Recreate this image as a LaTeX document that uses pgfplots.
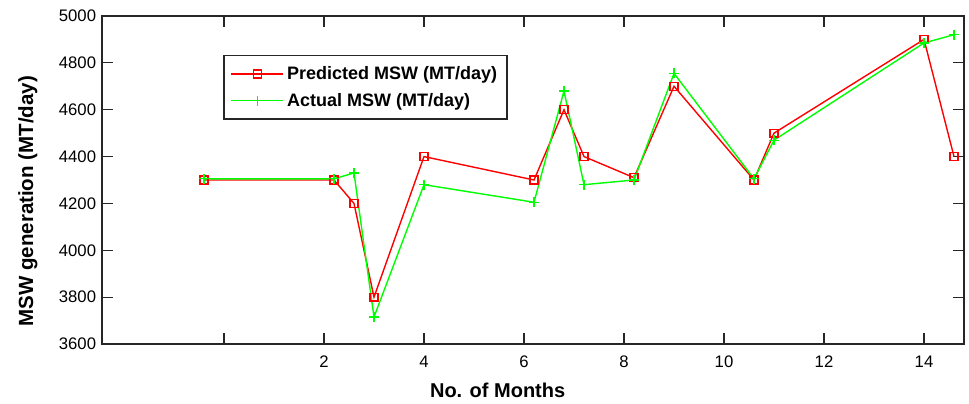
\documentclass[border=0pt]{standalone}
\usepackage{fontspec}
\setmainfont{Liberation Sans}
\usepackage{pgfplots}
\pgfplotsset{compat=1.18}
\begin{document}
\begin{tikzpicture}
\begin{axis}[
  name=ax,
  scale only axis,
  width=862pt, height=328pt,
  xmin=-2.44, xmax=14.8,
  ymin=3600, ymax=5000,
  xtick={0,2,...,14},
  xticklabels={{},2,4,6,8,10,12,14},
  ytick={3600,3800,...,5000},
  scaled y ticks=false,
  /pgf/number format/assume math mode=true,
  /pgf/number format/1000 sep={},
  tick label style={font=\fontsize{16.7}{18}\selectfont},
  xticklabel style={yshift=-8pt},
  yticklabel style={xshift=-2.4pt},
  major tick length=11pt,
  tick align=inside,
  tick style={line width=1.2pt, color=black!85},
  axis line style={line width=1.5pt, black!85},
  xlabel={No. of Months},
  ylabel={MSW generation (MT/day)},
  xlabel style={font=\fontsize{20}{22}\selectfont\bfseries, at={(axis description cs:0.459,-0.1646)}, anchor=base},
  ylabel style={font=\fontsize{20.5}{23}\selectfont\bfseries, at={(axis description cs:-0.080,0.435)}, anchor=base},
  legend style={at={(0.1404,0.8811)}, anchor=north west, draw=black!85, line width=1.5pt,
    font=\fontsize{18}{21}\selectfont\bfseries, inner xsep=7pt, inner ysep=8pt,
    nodes={inner sep=3pt}, row sep=6pt},
  legend cell align=left,
  legend image code/.code={\draw[mark repeat=2,mark phase=2] plot coordinates {(0pt,0pt) (26pt,0pt) (52pt,0pt)};},
]
\addplot[draw=red, color=red, line width=1.4pt, mark=square, mark size=3.9pt, mark options={solid, draw=red, fill=none, line width=1.3pt}] coordinates {
  (-0.4,4300) (2.2,4300) (2.6,4200) (3.0,3800) (4.0,4400) (6.2,4300) (6.8,4600)
  (7.2,4400) (8.2,4310) (9.0,4700) (10.6,4300) (11.0,4500) (14.0,4900) (14.6,4400)
};
\addlegendentry{Predicted MSW (MT/day)}
\addplot[draw=green, color=green, line width=1.4pt, mark=+, mark size=5pt, mark options={solid, draw=green, line width=1.3pt}] coordinates {
  (-0.4,4305) (2.2,4305) (2.6,4330) (3.0,3715) (4.0,4280) (6.2,4205) (6.8,4680)
  (7.2,4280) (8.2,4300) (9.0,4755) (10.6,4305) (11.0,4470) (14.0,4885) (14.6,4920)
};
\addlegendentry{Actual MSW (MT/day)}
\end{axis}
\path ([shift={(-102pt,-60pt)}]ax.south west) rectangle ([shift={(5pt,16pt)}]ax.north east);
\end{tikzpicture}
\end{document}
